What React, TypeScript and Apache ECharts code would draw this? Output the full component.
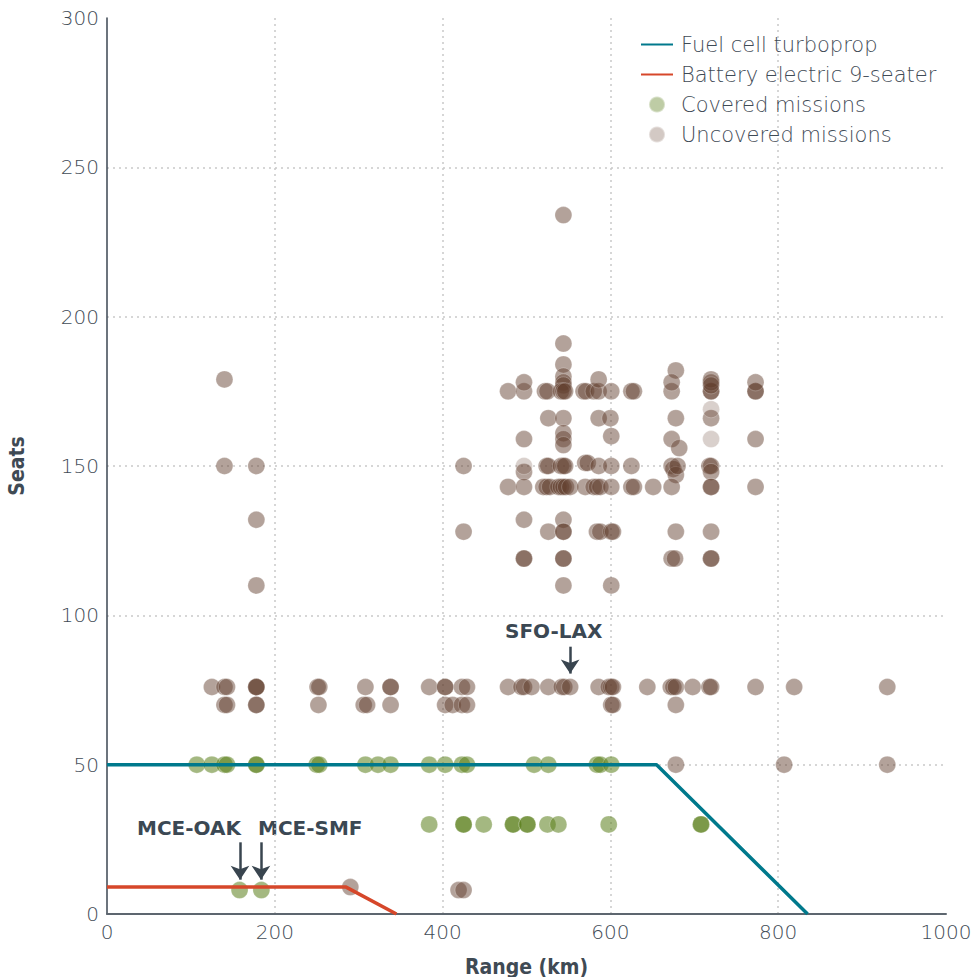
import React, { useEffect, useRef } from "react";
import * as echarts from "echarts";

const xTicks = [0, 200, 400, 600, 800, 1000];
const yTicks = [0, 50, 100, 150, 200, 250, 300];

const fuelCellLine: [number, number][] = [[0, 50], [655, 50], [835, 0]];
const batteryLine: [number, number][] = [[0, 9], [285, 9], [345, 0]];

const coveredMissions: [number, number][] = [
  [107, 50], [125, 50], [140, 50], [143, 50], [178, 50], [178, 50], [250, 50], [253, 50],
  [308, 50], [323, 50], [338, 50], [384, 50], [403, 50], [423, 50], [429, 50],
  [509, 50], [526, 50], [584, 50], [588, 50], [601, 50],
  [384, 30], [425, 30], [425, 30], [449, 30], [484, 30], [484, 30], [501, 30], [501, 30],
  [525, 30], [538, 30], [598, 30], [708, 30], [708, 30],
  [158, 8], [184, 8],
];

const uncoveredMissions: [number, number][] = [
  [140, 179], [140, 150], [178, 150], [178, 132], [178, 110],
  [125, 76], [140, 76], [143, 76], [178, 76], [178, 76], [178, 76], [251, 76], [253, 76],
  [308, 76], [338, 76], [338, 76], [384, 76], [403, 76], [403, 76], [423, 76], [429, 76],
  [478, 76], [494, 76], [497, 76], [506, 76], [526, 76], [542, 76], [545, 76], [552, 76],
  [586, 76], [598, 76], [601, 76], [603, 76], [644, 76], [672, 76], [675, 76], [678, 76],
  [698, 76], [718, 76], [720, 76], [773, 76], [819, 76], [930, 76],
  [140, 70], [143, 70], [178, 70], [178, 70], [252, 70], [306, 70], [310, 70], [338, 70],
  [403, 70], [412, 70], [423, 70], [429, 70], [601, 70], [603, 70], [678, 70],
  [678, 50], [807, 50], [930, 50],
  [290, 9], [419, 8], [425, 8],
  [544, 234], [544, 191], [544, 184], [544, 180], [544, 178], [544, 177],
  [478, 175], [497, 175], [522, 175], [525, 175], [541, 175], [544, 175], [546, 175],
  [568, 175], [571, 175], [580, 175], [586, 175], [601, 175], [625, 175], [628, 175],
  [673, 175], [720, 175], [720, 175], [773, 175], [773, 175],
  [497, 178], [586, 179], [678, 182], [673, 178], [720, 179], [720, 178], [720, 177], [773, 178],
  [526, 166], [544, 166], [586, 166], [600, 166], [678, 166], [720, 166],
  [497, 159], [544, 161], [544, 159], [544, 157], [601, 160], [673, 159], [682, 156], [773, 159],
  [425, 150], [497, 148], [524, 150], [526, 150], [541, 150], [544, 150], [546, 150],
  [570, 151], [573, 151], [586, 150], [601, 150], [625, 150], [673, 150], [675, 149],
  [678, 147], [680, 150], [718, 150], [720, 150], [720, 148],
  [478, 143], [497, 143], [520, 143], [524, 143], [528, 143], [538, 143], [541, 143],
  [544, 143], [547, 143], [552, 143], [570, 143], [580, 143], [584, 143], [588, 143],
  [601, 143], [625, 143], [628, 143], [651, 143], [673, 143], [720, 143], [720, 143], [773, 143],
  [497, 132], [544, 132],
  [425, 128], [526, 128], [544, 128], [544, 128], [584, 128], [588, 128], [601, 128],
  [603, 128], [678, 128], [720, 128],
  [497, 119], [497, 119], [544, 119], [544, 119], [673, 119], [677, 119], [720, 119], [720, 119],
  [544, 110], [601, 110],
];

const uncoveredLight: [number, number][] = [[720, 169], [720, 159], [497, 150]];

const annotations = [
  { label: "MCE-OAK", x: 158.5, from: 24, to: 11.5 },
  { label: "MCE-SMF", x: 183.5, from: 24, to: 11.5 },
  { label: "SFO-LAX", x: 552, from: 89.5, to: 80.5 },
];

const TEXT = "#3f4b56";
const FONT = "'DejaVu Sans', 'Open Sans', sans-serif";
const TITLE_FONT = "'DejaVu Sans Condensed', 'DejaVu Sans', sans-serif";

export default function App() {
  const ref = useRef<HTMLDivElement>(null);
  useEffect(() => {
    if (!ref.current) return;
    const chart = echarts.init(ref.current, undefined, { renderer: "svg" });
    const brown = "rgba(97,60,43,0.6)";
    const green = "rgba(92,128,31,0.7)";
    const labelStyle = { fontSize: 20, fontWeight: "bold", fill: "#3b4853", fontFamily: FONT };
    const split = {
      show: true,
      showMinLine: false,
      showMaxLine: false,
      lineStyle: { color: "#c9c9c9", type: [2, 4], width: 1.5 },
    };
    chart.setOption({
      animation: false,
      textStyle: { fontFamily: FONT },
      grid: { left: 107, right: 29, top: 18, bottom: 63, outerBoundsMode: "none", containLabel: false },
      legend: {
        orient: "vertical",
        left: 640,
        top: 34,
        padding: 0,
        itemWidth: 32,
        itemHeight: 16,
        itemGap: 9,
        textStyle: { fontSize: 21, color: TEXT, fontFamily: FONT, fontWeight: 200, padding: [0, 0, 0, 3] },
        data: [
          { name: "Fuel cell turboprop", itemStyle: { opacity: 0 } },
          { name: "Battery electric 9-seater", itemStyle: { opacity: 0 } },
          { name: "Covered missions", itemStyle: { color: "rgba(92,128,31,0.5)" } },
          { name: "Uncovered missions", itemStyle: { color: "rgba(97,60,43,0.35)" } },
        ],
      },
      xAxis: {
        type: "value",
        min: xTicks[0],
        max: xTicks[xTicks.length - 1],
        interval: 200,
        name: "Range (km)",
        nameLocation: "middle",
        nameGap: 42,
        nameTextStyle: { fontSize: 21, fontWeight: "bold", color: "#3f4a54", fontFamily: TITLE_FONT },
        axisLine: { lineStyle: { color: "#5d666f", width: 2 } },
        axisTick: { show: false },
        axisLabel: { fontSize: 20, color: TEXT, margin: 8, fontWeight: 200, formatter: (v: number) => String(v) },
        splitLine: split,
      },
      yAxis: {
        type: "value",
        min: yTicks[0],
        max: yTicks[yTicks.length - 1],
        interval: 50,
        name: "Seats",
        nameLocation: "middle",
        nameGap: 80,
        nameTextStyle: { fontSize: 21, fontWeight: "bold", color: "#3f4a54", fontFamily: TITLE_FONT },
        axisLine: { show: true, lineStyle: { color: "#3b4652", width: 1.5 } },
        axisTick: { show: false },
        axisLabel: { fontSize: 20, color: TEXT, margin: 8, fontWeight: 200, formatter: (v: number) => String(v) },
        splitLine: split,
      },
      series: [
        {
          name: "Covered missions",
          type: "scatter",
          symbolSize: 17,
          z: 2,
          itemStyle: { color: green, borderColor: "rgba(255,255,255,0.5)", borderWidth: 0.6 },
          data: coveredMissions,
        },
        {
          name: "Uncovered missions",
          type: "scatter",
          symbolSize: 17,
          z: 2,
          itemStyle: { color: brown, borderColor: "rgba(255,255,255,0.5)", borderWidth: 0.6 },
          data: uncoveredMissions,
        },
        {
          name: "Uncovered missions",
          type: "scatter",
          symbolSize: 17,
          z: 2,
          itemStyle: { color: "rgba(97,60,43,0.3)", borderColor: "rgba(255,255,255,0.5)", borderWidth: 0.6 },
          data: uncoveredLight,
        },
        {
          name: "Fuel cell turboprop",
          type: "line",
          z: 3,
          symbol: "none",
          lineStyle: { color: "#00798c", width: 3.5 },
          itemStyle: { color: "#00798c" },
          data: fuelCellLine,
        },
        {
          name: "Battery electric 9-seater",
          type: "line",
          z: 3,
          symbol: "none",
          lineStyle: { color: "#d6472a", width: 3.5 },
          itemStyle: { color: "#d6472a" },
          data: batteryLine,
          markLine: {
            silent: true,
            symbol: ["none", "arrow"],
            symbolSize: [14, 14],
            label: { show: false },
            lineStyle: { color: "#39454f", width: 2.5, type: "solid" },
            data: annotations.map((a) => [
              { coord: [a.x, a.from] },
              { coord: [a.x, a.to] },
            ]),
          },
        },
      ],
      graphic: [
        { type: "text", left: 137, top: 818, style: { text: annotations[0].label, ...labelStyle } },
        { type: "text", left: 258, top: 818, style: { text: annotations[1].label, ...labelStyle } },
        { type: "text", left: 505, top: 621, style: { text: annotations[2].label, ...labelStyle } },
      ],
    });
    return () => chart.dispose();
  }, []);
  return (
    <div
      ref={ref}
      style={{ position: "fixed", left: 0, top: 0, width: 975, height: 977, background: "#fff" }}
    />
  );
}
